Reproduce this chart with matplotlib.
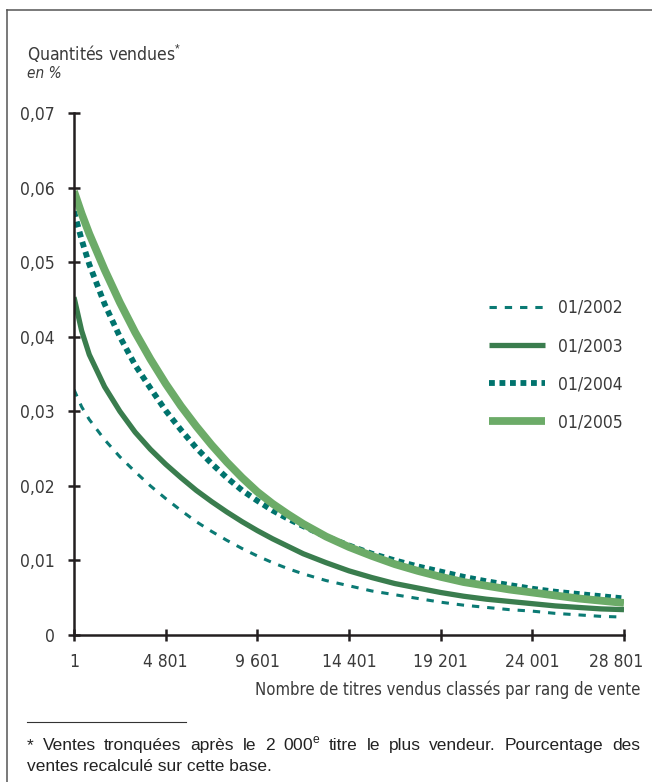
import matplotlib
matplotlib.use("Agg")
import matplotlib.pyplot as plt
from matplotlib.lines import Line2D
from matplotlib.transforms import ScaledTranslation

# rang de vente
ranks = [1, 401, 801, 1601, 2401, 3201, 4001, 4801, 5601, 6401, 7201, 8001, 8801,
         9601, 10401, 11201, 12001, 13201, 14401, 15601, 16801, 18001, 19201,
         20401, 21601, 22801, 24001, 25201, 26401, 27601, 28801]

q2002 = [0.0329, 0.0306, 0.0289, 0.0262, 0.0239, 0.0219, 0.0200, 0.0183, 0.0167,
         0.0152, 0.0139, 0.0127, 0.0116, 0.0106, 0.0097, 0.0089, 0.0082, 0.0073,
         0.0066, 0.0059, 0.0054, 0.0049, 0.0044, 0.0040, 0.0037, 0.0034, 0.0032,
         0.0029, 0.0027, 0.0025, 0.0024]
q2003 = [0.0453, 0.0408, 0.0376, 0.0333, 0.0300, 0.0272, 0.0249, 0.0229, 0.0211,
         0.0194, 0.0179, 0.0165, 0.0152, 0.0140, 0.0129, 0.0119, 0.0109, 0.0097,
         0.0086, 0.0077, 0.0069, 0.0063, 0.0057, 0.0052, 0.0048, 0.0045, 0.0042,
         0.0039, 0.0037, 0.0035, 0.0034]
q2004 = [0.0568, 0.0530, 0.0497, 0.0444, 0.0400, 0.0362, 0.0331, 0.0301, 0.0275,
         0.0251, 0.0230, 0.0211, 0.0194, 0.0180, 0.0167, 0.0156, 0.0146, 0.0132,
         0.0120, 0.0109, 0.0100, 0.0092, 0.0085, 0.0078, 0.0072, 0.0067, 0.0062,
         0.0058, 0.0055, 0.0052, 0.0049]
q2005 = [0.0595, 0.0565, 0.0538, 0.0490, 0.0446, 0.0406, 0.0370, 0.0337, 0.0307,
         0.0280, 0.0255, 0.0232, 0.0211, 0.0192, 0.0176, 0.0162, 0.0149, 0.0132,
         0.0118, 0.0106, 0.0095, 0.0086, 0.0078, 0.0071, 0.0066, 0.0061, 0.0057,
         0.0053, 0.0049, 0.0046, 0.0043]

series_labels = ["01/2002", "01/2003", "01/2004", "01/2005"]

x_ticks = [1, 4801, 9601, 14401, 19201, 24001, 28801]
x_ticklabels = ["1", "4 801", "9 601", "14 401", "19 201", "24 001", "28 801"]
y_ticks = [0, 0.01, 0.02, 0.03, 0.04, 0.05, 0.06, 0.07]
y_ticklabels = ["0", "0,01", "0,02", "0,03", "0,04", "0,05", "0,06", "0,07"]

note_line1 = r"* Ventes tronquées après le 2 000$^{\mathrm{e}}$ titre le plus vendeur. Pourcentage des"
note_line2 = "ventes recalculé sur cette base."

plt.rcParams["font.family"] = ["DejaVu Sans"]
plt.rcParams["font.stretch"] = "condensed"
plt.rcParams["mathtext.fontset"] = "custom"
plt.rcParams["mathtext.rm"] = "Liberation Sans"

W, H = 652, 782
txt = "#3a3a3a"
axc = "#231f20"
fs = 12.5

fig = plt.figure(figsize=(W / 100, H / 100), dpi=100)
ax = fig.add_axes([74 / W, (H - 635) / H, 550 / W, 522 / H])

ax.plot(ranks, q2002, color="#0b7a74", lw=2.2, ls=(0, (2.4, 2.6)),
        dash_capstyle="butt", label=series_labels[0])
ax.plot(ranks, q2003, color="#3a7d4e", lw=3.8, solid_capstyle="butt",
        solid_joinstyle="round", label=series_labels[1])
ax.plot(ranks, q2004, color="#00736d", lw=4.2, ls=(0, (1, 0.8)),
        dash_capstyle="butt", label=series_labels[2])
ax.plot(ranks, q2005, color="#6cab68", lw=5.6, solid_capstyle="butt",
        solid_joinstyle="round", label=series_labels[3])

ax.set_xlim(1, 28801)
ax.set_ylim(0, 0.07)
ax.set_xticks(x_ticks)
ax.set_xticklabels(x_ticklabels)
ax.set_yticks(y_ticks)
ax.set_yticklabels(y_ticklabels)

for s in ["top", "right"]:
    ax.spines[s].set_visible(False)
for s in ["left", "bottom"]:
    ax.spines[s].set_color(axc)
    ax.spines[s].set_linewidth(1.8)
ax.tick_params(direction="inout", length=8, width=1.8, color=axc,
               labelsize=fs, labelcolor=txt)
ax.tick_params(axis="x", pad=9)
ax.tick_params(axis="y", pad=10)

# le dernier libelle est decale vers la gauche
last = ax.get_xticklabels()[-1]
last.set_transform(last.get_transform() + ScaledTranslation(-8 / 100, 0, fig.dpi_scale_trans))

ax.legend(loc="upper left", bbox_to_anchor=(489 / W, 1 - 299 / H),
          bbox_transform=fig.transFigure, frameon=False, fontsize=fs,
          handlelength=3.2, handletextpad=0.75, labelspacing=1.16,
          borderpad=0, borderaxespad=0, labelcolor=txt)

# titres
fig.text(27 / W, 1 - 60 / H, r"Quantités vendues$^{*}$", fontsize=fs,
         color=txt, va="baseline", ha="left")
fig.text(27 / W, 1 - 78 / H, "en %", fontsize=11, style="italic",
         color=txt, va="baseline", ha="left")
fig.text(640 / W, 1 - 690 / H, "Nombre de titres vendus classés par rang de vente",
         fontsize=12, color=txt, va="center", ha="right")

# cadre
fig.add_artist(Line2D([7 / W, 7 / W], [0, 1 - 10 / H], transform=fig.transFigure,
                      color="#555555", lw=1.1))
fig.add_artist(Line2D([7 / W, 1], [1 - 10 / H, 1 - 10 / H], transform=fig.transFigure,
                      color="#555555", lw=1.1))

# note (premiere ligne justifiee)
fig.add_artist(Line2D([27 / W, 186 / W], [1 - 722 / H, 1 - 722 / H],
                      transform=fig.transFigure, color="#333333", lw=0.8))
note_font = ["Liberation Sans", "DejaVu Sans"]
note_kw = dict(fontsize=12.5, family=note_font, stretch="normal", color="#222222",
               va="baseline", ha="left")
renderer = fig.canvas.get_renderer()
words = note_line1.split(" ")
items = [fig.text(0, 1 - 750 / H, w, **note_kw) for w in words]
widths = [t.get_window_extent(renderer).width for t in items]
x0, x1 = 27, 640
gap = (x1 - x0 - sum(widths)) / (len(words) - 1)
x = x0
for t, w in zip(items, widths):
    t.set_x(x / W)
    x += w + gap
fig.text(27 / W, 1 - 771 / H, note_line2, **note_kw)

fig.savefig("out.png", dpi=100)
